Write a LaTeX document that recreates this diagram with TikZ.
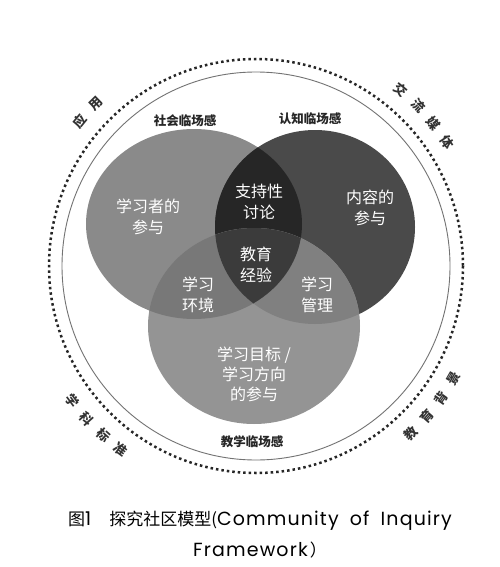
\documentclass[tikz,border=0pt]{standalone}
\usepackage{fontspec}
\newfontfamily\cjk{Noto Sans CJK SC}
\newfontfamily\lat[LetterSpace=6]{Poppins}
\begin{document}
\begin{tikzpicture}[x=1pt,y=-1pt,
  venn/.style={text=white, align=center, font=\cjk\fontsize{16}{21}\selectfont, inner sep=0pt},
  pres/.style={text=black!85, font=\cjk\bfseries\fontsize{12.5}{14}\selectfont, inner sep=0pt},
  outer/.style={text=black!80, font=\cjk\bfseries\fontsize{13}{14}\selectfont, inner sep=0pt},
  capt/.style={text=black, inner sep=0pt, anchor=base}]
\useasboundingbox (0,0) rectangle (500,567);
\fill[white] (0,0) rectangle (500,567);
\coordinate (C) at (256,266);
% outer rings
\draw[line width=2.5pt, dash pattern=on 2.5pt off 3pt, black!85] (C) circle[radius=207];
\draw[line width=0.9pt, black!55] (C) circle[radius=194];
% venn circles
\fill[black!46] (194,224) ellipse [x radius=108, y radius=95];
\fill[black!71] (315,227) ellipse [x radius=100, y radius=97];
\fill[black!42] (254,326) ellipse [x radius=106, y radius=98];
% overlaps
\begin{scope}
  \clip (194,224) ellipse [x radius=108, y radius=95];
  \fill[black!85] (315,227) ellipse [x radius=100, y radius=97];
  \fill[black!53] (254,326) ellipse [x radius=106, y radius=98];
\end{scope}
\begin{scope}
  \clip (315,227) ellipse [x radius=100, y radius=97];
  \fill[black!50] (254,326) ellipse [x radius=106, y radius=98];
\end{scope}
\begin{scope}
  \clip (194,224) ellipse [x radius=108, y radius=95];
  \clip (315,227) ellipse [x radius=100, y radius=97];
  \fill[black!77] (254,326) ellipse [x radius=106, y radius=98];
\end{scope}
% venn labels
\node[venn] (learner) at (148,217) {学习者的\\参与};
\node[venn] (content) at (370,208) {内容的\\参与};
\node[venn] (support) at (259,202) {支持性\\讨论};
\node[venn] (edu) at (256,265) {教育\\经验};
\node[venn] (env) at (198,295) {学习\\环境};
\node[venn] (mgmt) at (317,295) {学习\\管理};
\node[venn, font=\cjk\fontsize{16}{20}\selectfont] (goal) at (254,374) {学习目标 /\\学习方向\\的参与};
% presence labels
\node[pres] (social) at (185,121) {社会临场感};
\node[pres] (cognitive) at (310,119) {认知临场感};
\node[pres] (teaching) at (252,442) {教学临场感};
% outer arc labels (top: tops outward; bottom: tops inward)
\foreach \ch/\a [count=\i] in {应/140.5, 用/134.5}
  \node[outer, rotate=\a-90] (app\i) at ({256+228*cos(\a)},{266-228*sin(\a)}) {\ch};
\foreach \ch/\a [count=\i] in {交/50.5, 流/44.6, 媒/38.8, 体/33.0}
  \node[outer, rotate=\a-90] (med\i) at ({256+228*cos(\a)},{266-228*sin(\a)}) {\ch};
\foreach \ch/\a [count=\i] in {学/216.3, 科/222.1, 标/227.9, 准/233.7}
  \node[outer, rotate=\a+90] (dis\i) at ({256+228*cos(\a)},{266-228*sin(\a)}) {\ch};
\foreach \ch/\a [count=\i] in {教/-47.2, 育/-41.3, 背/-35.5, 景/-29.7}
  \node[outer, rotate=\a+90] (ctx\i) at ({256+228*cos(\a)},{266-228*sin(\a)}) {\ch};
% caption
\node[capt] (cap1) at (260,525) {{\cjk\fontsize{17}{20}\selectfont 图}{\lat\fontsize{19}{22}\selectfont 1}\hspace{18pt}{\cjk\fontsize{17}{20}\selectfont 探究社区模型(}{\lat\fontsize{19}{22}\selectfont Community\hspace{5pt} of\hspace{5pt} Inquiry}};
\node[capt] (cap2) at (260,556) {{\lat\fontsize{19}{22}\selectfont Framework}\hspace{2pt}{\cjk\fontsize{17}{20}\selectfont ）}};
\end{tikzpicture}
\end{document}
